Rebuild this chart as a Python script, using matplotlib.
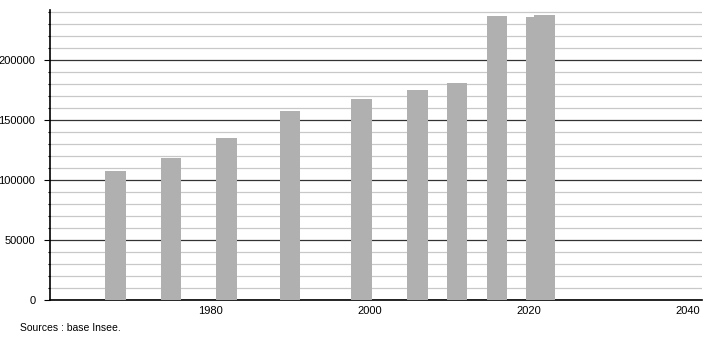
import numpy as np
import matplotlib.pyplot as plt
from matplotlib.ticker import MultipleLocator

# Population (recensements Insee)
annees = [1968, 1975, 1982, 1990, 1999, 2006, 2011, 2016, 2021, 2022]
population = [107500, 118300, 135000, 157500, 167500, 175000, 180800, 236700, 235500, 237500]
xticks = [1980, 2000, 2020, 2040]

plt.rcParams['font.family'] = ['Liberation Sans', 'DejaVu Sans']

fig = plt.figure(figsize=(7.1, 3.4), dpi=100)
ax = fig.add_axes([50/710, 40/340, 652/710, 290/340])

ax.bar(annees, population, width=2.6, color='#b0b0b0', zorder=3)

ax.set_xlim(1959.8, 2041.8)
ax.set_ylim(0, 241700)
ax.set_xticks(xticks)
ax.yaxis.set_major_locator(MultipleLocator(50000))
ax.yaxis.set_minor_locator(MultipleLocator(10000))

ax.grid(axis='y', which='minor', color='#c8c8c8', linewidth=0.9, zorder=1)
ax.grid(axis='y', which='major', color='#333333', linewidth=0.9, zorder=2)

for s in ['top', 'right']:
    ax.spines[s].set_visible(False)
ax.spines['left'].set_linewidth(1.2)
ax.spines['bottom'].set_linewidth(1.2)

ax.tick_params(axis='y', which='major', length=4.5, width=0.8, pad=6, labelsize=8)
ax.tick_params(axis='y', which='minor', length=1.8, width=0.8)
ax.tick_params(axis='x', length=0, pad=4, labelsize=8)

fig.text(20/710, 1 - 328/340, 'Sources : base Insee.', fontsize=7.5, va='center')

plt.savefig('out.png', dpi=100)
plt.close()
